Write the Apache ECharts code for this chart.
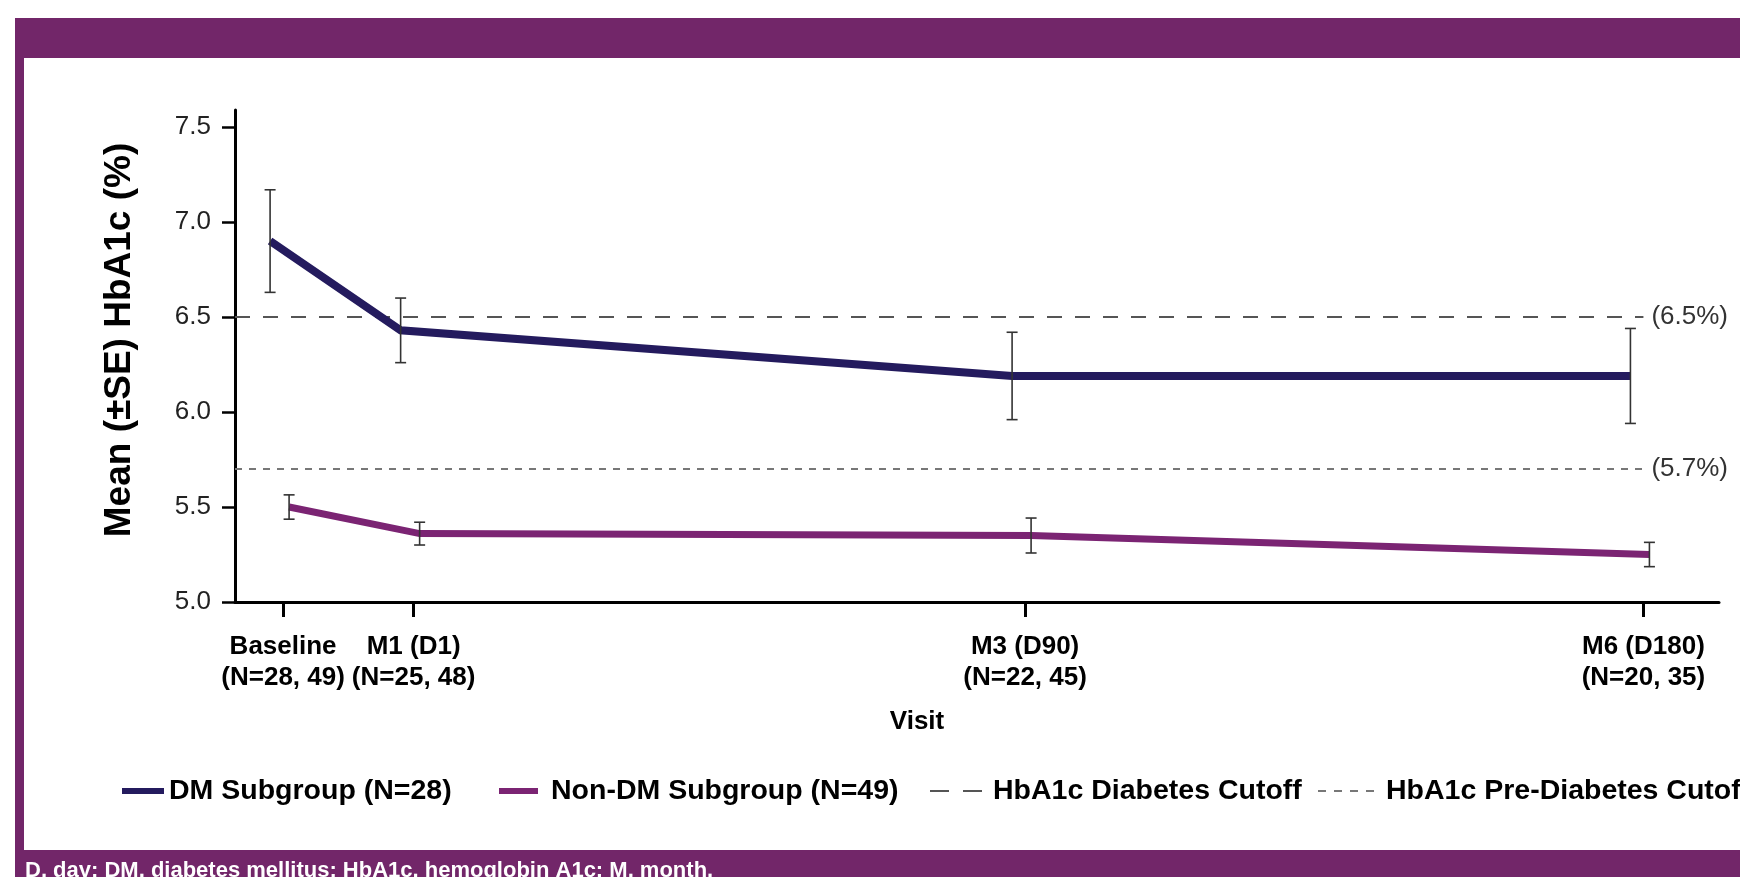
<!DOCTYPE html>
<html>
<head>
<meta charset="utf-8">
<script src="https://cdn.jsdelivr.net/npm/echarts@6/dist/echarts.min.js"></script>
<style>
html,body{margin:0;padding:0;background:#ffffff;}
#chart{width:1740px;height:877px;}
</style>
</head>
<body>
<div id="chart"></div>
<script>
// ---------- data ----------
const visitLabels = ['Baseline', 'M1 (D1)', 'M3 (D90)', 'M6 (D180)'];
const visitN = ['(N=28, 49)', '(N=25, 48)', '(N=22, 45)', '(N=20, 35)'];
const visitDay = [-18, 1, 90, 180];
const dmMean = [6.90, 6.43, 6.19, 6.19];
const dmSE = [0.27, 0.17, 0.23, 0.25];
const nonDmMean = [5.50, 5.36, 5.35, 5.25];
const nonDmSE = [0.064, 0.06, 0.092, 0.064];
const cutoffValues = [6.5, 5.7];
const cutoffLabels = ['(6.5%)', '(5.7%)'];
const yTicks = [5.0, 5.5, 6.0, 6.5, 7.0, 7.5];
const seriesNames = ['DM Subgroup (N=28)', 'Non-DM Subgroup (N=49)', 'HbA1c Diabetes Cutoff', 'HbA1c Pre-Diabetes Cutoff'];
const footnote = 'D, day; DM, diabetes mellitus; HbA1c, hemoglobin A1c; M, month.';
const yAxisTitle = 'Mean (\u00B1SE) HbA1c (%)';
const xAxisTitle = 'Visit';

// ---------- styles ----------
const REG = '"Liberation Sans", Arial, sans-serif';
const NAVY = '#241b5e';
const PURPLE = '#7b2473';
const FRAME = '#722669';
const X_MIN = -25, X_MAX = 191;

function makeRender(means, ses, dx, color, width) {
  return function (params, api) {
    const i = params.dataIndex;
    const children = [];
    if (i === 0) {
      const pts = visitDay.map(function (d, k) {
        const p = api.coord([d, means[k]]);
        return [p[0] + dx, p[1]];
      });
      children.push({
        type: 'polyline', shape: { points: pts },
        style: { stroke: color, lineWidth: width, fill: null, lineJoin: 'miter', lineCap: 'butt' }
      });
    }
    const c = api.coord([api.value(0), api.value(1)]);
    const t = api.coord([api.value(0), api.value(1) + api.value(2)]);
    const b = api.coord([api.value(0), api.value(1) - api.value(2)]);
    const x = c[0] + dx;
    const cap = 5.5;
    const es = { stroke: '#333333', lineWidth: 1.6 };
    children.push({ type: 'line', shape: { x1: x, y1: t[1], x2: x, y2: b[1] }, style: es });
    children.push({ type: 'line', shape: { x1: x - cap, y1: t[1], x2: x + cap, y2: t[1] }, style: es });
    children.push({ type: 'line', shape: { x1: x - cap, y1: b[1], x2: x + cap, y2: b[1] }, style: es });
    return { type: 'group', children: children };
  };
}

const chart = echarts.init(document.getElementById('chart'), null, { renderer: 'canvas' });

const legendText = { fontFamily: REG, fontWeight: 'bold', fontSize: 28.5, color: '#000', lineHeight: 32 };
function legendItem(left, w, h, icon, name, pad) {
  return {
    top: 775, left: left, padding: 0, itemWidth: w, itemHeight: h, icon: icon,
    selectedMode: false, data: [name],
    textStyle: Object.assign({}, legendText, { padding: [0, 0, 0, pad] })
  };
}

const option = {
  backgroundColor: '#ffffff',
  animation: false,
  grid: { left: 235, right: 21, top: 110, bottom: 275 },
  xAxis: {
    type: 'value', min: X_MIN, max: X_MAX,
    splitLine: { show: false },
    axisLine: { show: true, onZero: false, lineStyle: { color: '#000', width: 3 } },
    axisTick: { show: true, customValues: visitDay, length: 15, lineStyle: { color: '#000', width: 3 } },
    axisLabel: {
      customValues: visitDay, margin: 29, hideOverlap: false, showMinLabel: true, showMaxLabel: true,
      formatter: function (v) {
        const k = visitDay.indexOf(v);
        return k >= 0 ? visitLabels[k] + '\n' + visitN[k] : '';
      },
      fontFamily: REG, fontWeight: 'bold', fontSize: 26, lineHeight: 31, color: '#000'
    },
    name: xAxisTitle, nameLocation: 'middle', nameGap: 107,
    nameTextStyle: { fontFamily: REG, fontWeight: 'bold', fontSize: 26, color: '#000', padding: [0, 120, 0, 0] }
  },
  yAxis: {
    type: 'value', min: 5, max: 7.59,
    splitLine: { show: false },
    axisLine: { show: true, onZero: false, lineStyle: { color: '#000', width: 3 } },
    axisTick: { show: true, customValues: yTicks, length: 13, lineStyle: { color: '#000', width: 2.5 } },
    axisLabel: {
      customValues: yTicks, margin: 24, hideOverlap: false,
      formatter: function (v) { return v.toFixed(1); },
      fontFamily: REG, fontSize: 26, color: '#222'
    },
    name: yAxisTitle, nameLocation: 'middle', nameGap: 97,
    nameTextStyle: { fontFamily: REG, fontWeight: 'bold', fontSize: 37, color: '#000', padding: [0, 0, 0, 32] }
  },
  legend: [
    legendItem(122, 42, 6, 'rect', seriesNames[0], 0),
    legendItem(499, 39, 6, 'rect', seriesNames[1], 8),
    legendItem(930, 52, 2, 'path://M0,0h19v2h-19zM33,0h19v2h-19z', seriesNames[2], 6),
    legendItem(1318, 58, 2, 'path://M0,0h8v2h-8zM16,0h8v2h-8zM32,0h8v2h-8zM48,0h8v2h-8z', seriesNames[3], 6)
  ],
  graphic: [
    { type: 'rect', shape: { x: 15, y: 18, width: 1725, height: 40 }, style: { fill: FRAME }, silent: true },
    { type: 'rect', shape: { x: 15, y: 18, width: 9, height: 859 }, style: { fill: FRAME }, silent: true },
    { type: 'rect', shape: { x: 15, y: 850, width: 1725, height: 27 }, style: { fill: FRAME }, silent: true },
    { type: 'text', left: 25, top: 860, silent: true,
      style: { text: footnote, fill: '#ffffff', font: 'bold 22px ' + REG } }
  ],
  series: [
    {
      type: 'line', name: seriesNames[2],
      data: [[X_MIN, cutoffValues[0]], [visitDay[3], cutoffValues[0]]],
      symbol: 'none', silent: true, z: 1,
      lineStyle: { color: '#555555', width: 2, type: [15, 13] },
      itemStyle: { color: '#555555' },
      endLabel: { show: true, formatter: cutoffLabels[0], distance: 8, fontFamily: REG, fontSize: 26, color: '#333' }
    },
    {
      type: 'line', name: seriesNames[3],
      data: [[X_MIN, cutoffValues[1]], [visitDay[3], cutoffValues[1]]],
      symbol: 'none', silent: true, z: 1,
      lineStyle: { color: '#777777', width: 2, type: [7, 7] },
      itemStyle: { color: '#777777' },
      endLabel: { show: true, formatter: cutoffLabels[1], distance: 8, fontFamily: REG, fontSize: 26, color: '#333' }
    },
    {
      type: 'custom', name: seriesNames[0], z: 3,
      itemStyle: { color: NAVY },
      data: visitDay.map(function (d, k) { return [d, dmMean[k], dmSE[k]]; }),
      encode: { x: 0, y: 1 },
      renderItem: makeRender(dmMean, dmSE, -13, NAVY, 8)
    },
    {
      type: 'custom', name: seriesNames[1], z: 4,
      itemStyle: { color: PURPLE },
      data: visitDay.map(function (d, k) { return [d, nonDmMean[k], nonDmSE[k]]; }),
      encode: { x: 0, y: 1 },
      renderItem: makeRender(nonDmMean, nonDmSE, 6, PURPLE, 7)
    }
  ]
};
chart.setOption(option);
</script>
</body>
</html>
